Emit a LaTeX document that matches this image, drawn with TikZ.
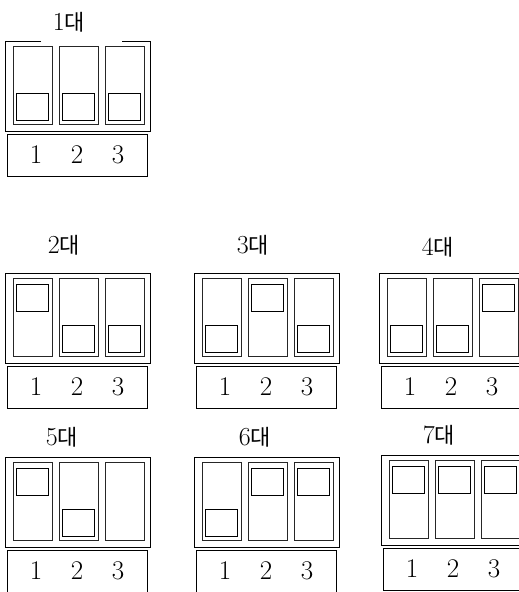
\documentclass[tikz,border=0pt]{standalone}
\usepackage{fontspec}
\newfontfamily\krfont{Noto Sans CJK KR}
\usetikzlibrary{positioning}

\begin{document}
\begin{tikzpicture}[
    x=1pt, y=-1pt,
    frame/.style={draw=black, line width=0.9pt},
    slot/.style={draw=black!85, line width=1.0pt},
    knob/.style={draw=black, line width=0.9pt},
    numbox/.style={rectangle, draw=black, line width=0.9pt,
                   minimum width=140pt, minimum height=42pt, inner sep=0pt},
    digit/.style={font=\fontsize{27}{30}\selectfont, inner sep=0pt},
    grouplabel/.style={font=\fontsize{26}{28}\selectfont, inner sep=0pt}
]
\useasboundingbox (0,0) rectangle (519,592);
\clip (0,0) rectangle (519,592);

% knob code: 0 = none, 1 = up, 2 = down
\foreach \gname/\gnum/\gx/\gy/\lx/\ly/\gap/\ka/\kb/\kc in {
    g1/1/0/41/69/-19/1/2/2/2,
    g2/2/0/273/64/-28/0/1/2/2,
    g3/3/189/273/64/-28/0/2/1/2,
    g4/4/374/273/64/-26/0/2/2/1,
    g5/5/0/457/62/-20/0/1/2/0,
    g6/6/189/457/66/-20/0/2/1/1,
    g7/7/376/455/63/-20/0/1/1/1} {
  \begin{scope}[shift={(\gx,\gy)}]
    \node[grouplabel] (\gname-lab) at (\lx,\ly) {\gnum{\krfont\fontsize{22}{26}\selectfont 대}};
    \ifnum\gap=1
      \draw[frame] (41,0) -- (5,0) -- (5,90) -- (150,90) -- (150,0) -- (122,0);
    \else
      \draw[frame] (5,0) rectangle (150,90);
    \fi
    \foreach \k/\sx in {\ka/13,\kb/59,\kc/105} {
      \draw[slot] (\sx,5) rectangle ++(39,78);
      \ifnum\k=1 \draw[knob] (\sx+3.5,11) rectangle ++(32,27); \fi
      \ifnum\k=2 \draw[knob] (\sx+3.5,52) rectangle ++(32,27); \fi
    }
    \node[numbox] (\gname-num) at (77,114) {};
    \node[digit] (\gname-d1) at (36,114) {1};
    \node[digit] (\gname-d2) at (77,114) {2};
    \node[digit] (\gname-d3) at (118,114) {3};
  \end{scope}
}
\end{tikzpicture}
\end{document}
